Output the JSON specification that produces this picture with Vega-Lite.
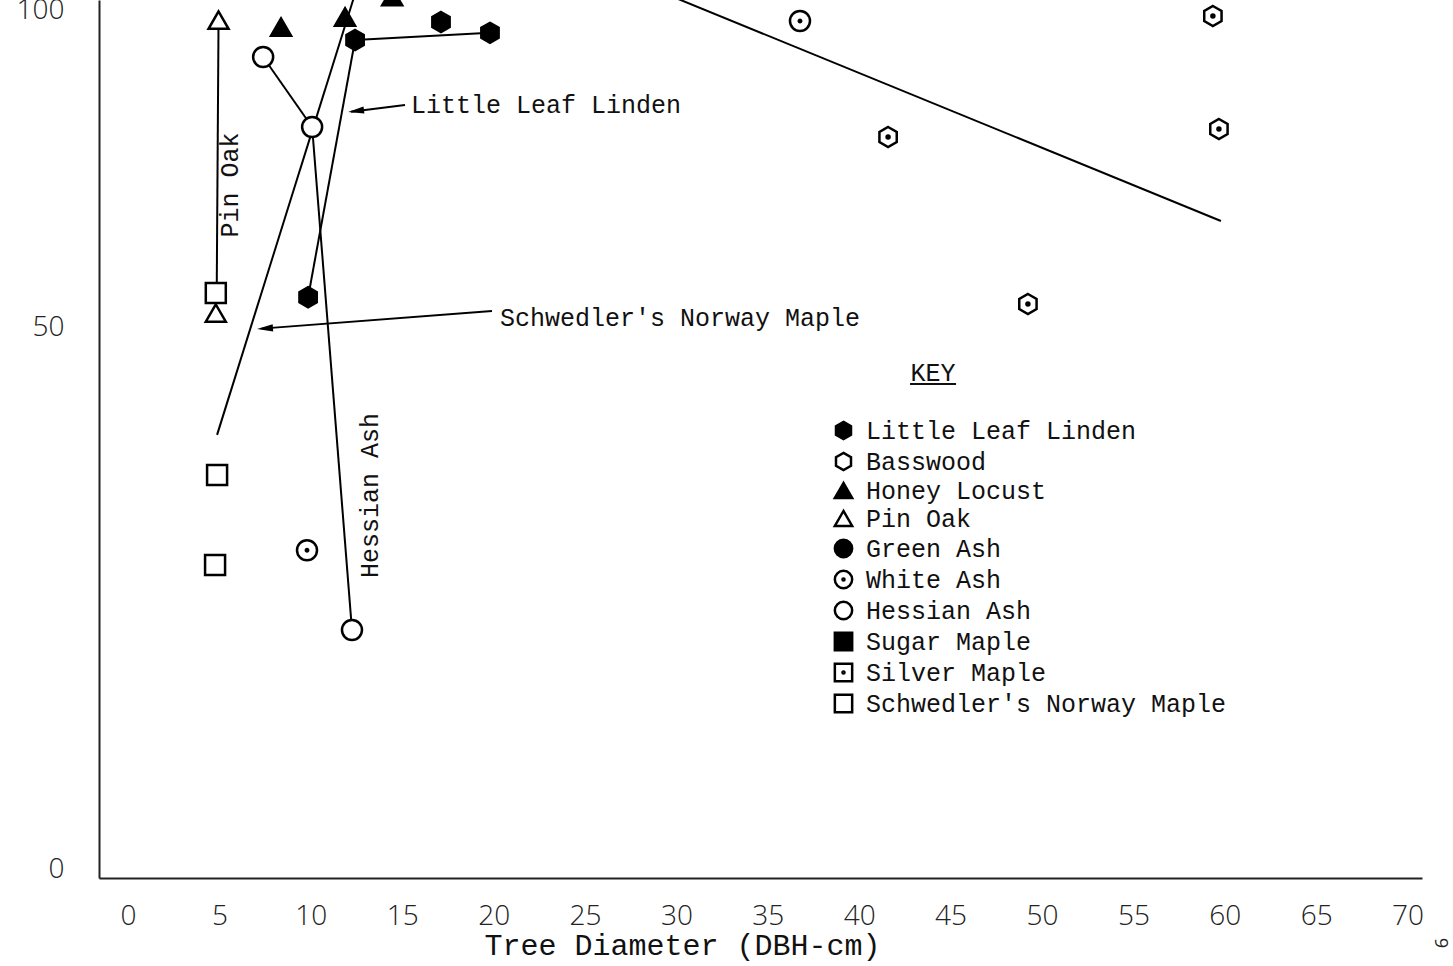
{
  "$schema": "https://vega.github.io/schema/vega-lite/v6.json",
  "width": 1323,
  "height": 878,
  "autosize": "none",
  "padding": {"left": 99, "top": 0, "right": 31, "bottom": 88},
  "background": "white",
  "config": {
    "view": {"stroke": null},
    "font": "Liberation Mono",
    "legend": {
      "orient": "none", "legendX": 732, "legendY": 418, "title": null, "padding": 0,
      "labelFont": "Liberation Mono", "labelFontSize": 25, "labelColor": "#111",
      "symbolSize": 300, "symbolStrokeWidth": 2.5, "symbolStrokeColor": "black",
      "rowPadding": 2, "labelOffset": 10, "labelLimit": 600
    }
  },
  "datasets": {
    "points": [
      {"species": "Little Leaf Linden", "dbh": 9.85, "pct": 54.7},
      {"species": "Little Leaf Linden", "dbh": 12.42, "pct": 95.27},
      {"species": "Little Leaf Linden", "dbh": 17.12, "pct": 98.1},
      {"species": "Little Leaf Linden", "dbh": 19.8, "pct": 96.4},
      {"species": "Honey Locust", "dbh": 8.37, "pct": 97.3},
      {"species": "Honey Locust", "dbh": 11.87, "pct": 98.9},
      {"species": "Honey Locust", "dbh": 14.45, "pct": 102.1},
      {"species": "Pin Oak", "dbh": 4.95, "pct": 98.4},
      {"species": "Pin Oak", "dbh": 4.8, "pct": 52.2},
      {"species": "White Ash", "dbh": 36.76, "pct": 98.26},
      {"species": "White Ash", "dbh": 9.79, "pct": 29.4},
      {"species": "Basswood", "dbh": 41.58, "pct": 79.97},
      {"species": "Basswood", "dbh": 49.23, "pct": 53.63},
      {"species": "Basswood", "dbh": 59.35, "pct": 99.05},
      {"species": "Basswood", "dbh": 59.68, "pct": 81.23},
      {"species": "Hessian Ash", "dbh": 7.39, "pct": 92.59},
      {"species": "Hessian Ash", "dbh": 10.07, "pct": 81.55},
      {"species": "Hessian Ash", "dbh": 12.25, "pct": 22.05},
      {"species": "Schwedler's Norway Maple", "dbh": 4.8, "pct": 55.36},
      {"species": "Schwedler's Norway Maple", "dbh": 4.87, "pct": 36.35},
      {"species": "Schwedler's Norway Maple", "dbh": 4.76, "pct": 28.04}
    ],
    "lines": [
      {"seg": "pinoak", "dbh": 4.95, "pct": 98.4},
      {"seg": "pinoak", "dbh": 4.85, "pct": 55.4},
      {"seg": "hess1", "dbh": 7.39, "pct": 92.59},
      {"seg": "hess1", "dbh": 10.07, "pct": 81.55},
      {"seg": "hess2", "dbh": 10.07, "pct": 81.55},
      {"seg": "hess2", "dbh": 12.25, "pct": 22.05},
      {"seg": "lll1", "dbh": 9.85, "pct": 54.7},
      {"seg": "lll1", "dbh": 12.42, "pct": 95.27},
      {"seg": "lll2", "dbh": 12.42, "pct": 95.27},
      {"seg": "lll2", "dbh": 19.8, "pct": 96.4},
      {"seg": "schw", "dbh": 4.87, "pct": 40.05},
      {"seg": "schw", "dbh": 12.52, "pct": 103.5},
      {"seg": "bass", "dbh": 59.79, "pct": 66.72},
      {"seg": "bass", "dbh": 28.86, "pct": 103.2},
      {"seg": "arrow1", "dbh": 12.2, "pct": 83.95},
      {"seg": "arrow1", "dbh": 15.15, "pct": 85.02},
      {"seg": "arrow2", "dbh": 7.3, "pct": 49.85},
      {"seg": "arrow2", "dbh": 19.91, "pct": 52.52}
    ],
    "labels": [
      {"text": "Little Leaf Linden", "dbh": 15.48, "pct": 85.02},
      {"text": "Schwedler's Norway Maple", "dbh": 20.35, "pct": 51.42}
    ],
    "vlabels": [
      {"text": "Pin Oak", "dbh": 5.58, "pct": 72.4},
      {"text": "Hessian Ash", "dbh": 13.24, "pct": 34.46}
    ]
  },
  "encoding": {
    "x": {
      "field": "dbh", "type": "quantitative",
      "scale": {"domain": [-1.59, 70.79], "nice": false, "zero": false},
      "axis": {
        "values": [0, 5, 10, 15, 20, 25, 30, 35, 40, 45, 50, 55, 60, 65, 70],
        "title": "Tree Diameter (DBH-cm)",
        "grid": false, "ticks": false,
        "domainColor": "#222", "domainWidth": 2,
        "labelFont": "Open Sans", "labelFontWeight": 300, "labelFontSize": 28, "labelColor": "#222",
        "labelPadding": 38, "labelBaseline": "middle", "labelFlush": false, "labelOverlap": false,
        "titleFont": "Liberation Mono", "titleFontSize": 30, "titleFontWeight": "normal", "titleColor": "#111",
        "titleX": 583, "titleY": 67, "titleBaseline": "middle", "titleAlign": "center"
      }
    },
    "y": {
      "field": "pct", "type": "quantitative",
      "scale": {"domain": [-0.83, 0, 50, 100, 101.58], "range": [878, 869, 327, 10, 0], "nice": false, "zero": false},
      "axis": {
        "values": [0, 50, 100],
        "title": null, "grid": false, "ticks": false,
        "domainColor": "#222", "domainWidth": 2,
        "labelFont": "Open Sans", "labelFontWeight": 300, "labelFontSize": 28, "labelColor": "#222",
        "labelPadding": 35, "labelBaseline": "middle"
      }
    }
  },
  "layer": [
    {
      "data": {"name": "lines"},
      "mark": {"type": "line", "stroke": "black", "strokeWidth": 2},
      "encoding": {"detail": {"field": "seg", "type": "nominal"}}
    },
    {
      "data": {"name": "points"},
      "mark": {"type": "point", "size": 400, "strokeWidth": 2.5, "opacity": 1, "fillOpacity": 1, "strokeOpacity": 1},
      "encoding": {
        "shape": {
          "field": "species", "type": "nominal",
          "scale": {
            "domain": ["Little Leaf Linden", "Basswood", "Honey Locust", "Pin Oak", "Green Ash", "White Ash", "Hessian Ash", "Sugar Maple", "Silver Maple", "Schwedler's Norway Maple"],
            "range": [
              "M0,-1L0.866,-0.5L0.866,0.5L0,1L-0.866,0.5L-0.866,-0.5Z",
              "M0,-1L0.866,-0.5L0.866,0.5L0,1L-0.866,0.5L-0.866,-0.5Z",
              "triangle-up",
              "triangle-up",
              "circle",
              "M-1,0A1,1,0,1,1,1,0A1,1,0,1,1,-1,0Z M-0.12,0A0.12,0.12,0,1,1,0.12,0A0.12,0.12,0,1,1,-0.12,0Z",
              "circle",
              "square",
              "M-1,-1H1V1H-1Z M-0.12,0A0.12,0.12,0,1,1,0.12,0A0.12,0.12,0,1,1,-0.12,0Z",
              "square"
            ]
          }
        },
        "fill": {
          "field": "species", "type": "nominal",
          "scale": {
            "domain": ["Little Leaf Linden", "Basswood", "Honey Locust", "Pin Oak", "Green Ash", "White Ash", "Hessian Ash", "Sugar Maple", "Silver Maple", "Schwedler's Norway Maple"],
            "range": ["black", "white", "black", "white", "black", "white", "white", "black", "white", "white"]
          }
        },
        "stroke": {
          "field": "species", "type": "nominal",
          "scale": {
            "domain": ["Little Leaf Linden", "Basswood", "Honey Locust", "Pin Oak", "Green Ash", "White Ash", "Hessian Ash", "Sugar Maple", "Silver Maple", "Schwedler's Norway Maple"],
            "range": ["black", "black", "black", "black", "black", "black", "black", "black", "black", "black"]
          }
        }
      }
    },
    {
      "data": {"name": "points"},
      "transform": [{"filter": "datum.species === 'Basswood'"}],
      "mark": {"type": "point", "shape": "circle", "size": 30, "filled": true, "color": "black", "opacity": 1}
    },
    {
      "data": {"values": [{"dbh": 12.47, "pct": 84.07}]},
      "mark": {"type": "point", "shape": "M-1,0L1,-0.45L1,0.45Z", "size": 256, "filled": true, "color": "black", "opacity": 1, "angle": -7}
    },
    {
      "data": {"values": [{"dbh": 7.49, "pct": 49.87}]},
      "mark": {"type": "point", "shape": "M-1,0L1,-0.45L1,0.45Z", "size": 256, "filled": true, "color": "black", "opacity": 1, "angle": -4}
    },
    {
      "data": {"name": "labels"},
      "mark": {"type": "text", "align": "left", "baseline": "middle", "font": "Liberation Mono", "fontSize": 25, "color": "#111"},
      "encoding": {"text": {"field": "text"}}
    },
    {
      "data": {"name": "vlabels"},
      "mark": {"type": "text", "align": "center", "baseline": "middle", "angle": 270, "font": "Liberation Mono", "fontSize": 25, "color": "#111"},
      "encoding": {"text": {"field": "text"}}
    },
    {
      "data": {"values": [{"text": "KEY", "dbh": 44.04, "pct": 45.76}]},
      "mark": {"type": "text", "align": "center", "baseline": "middle", "font": "Liberation Mono", "fontSize": 25, "color": "#111"},
      "encoding": {"text": {"field": "text"}}
    },
    {
      "data": {"values": [{"dbh": 42.78, "dbh2": 45.3, "pct": 44.74}]},
      "mark": {"type": "rule", "stroke": "#111", "strokeWidth": 2},
      "encoding": {"x2": {"field": "dbh2"}}
    },
    {
      "data": {"values": [{"text": "6", "dbh": 71.94, "pct": -6.83}]},
      "mark": {"type": "text", "align": "center", "baseline": "middle", "angle": 270, "font": "Open Sans", "fontSize": 18, "color": "#222"},
      "encoding": {"text": {"field": "text"}}
    }
  ]
}
